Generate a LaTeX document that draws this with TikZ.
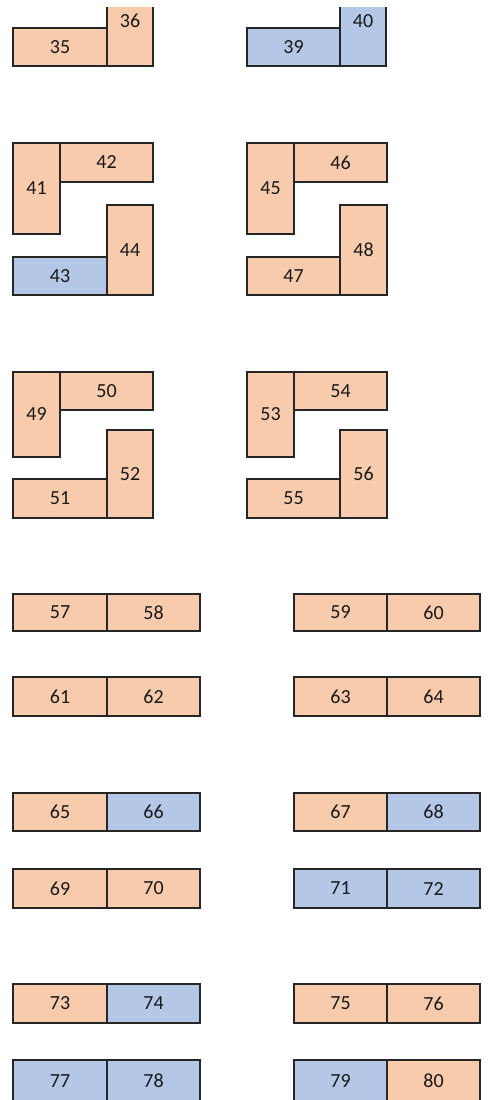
\documentclass[tikz,border=0pt]{standalone}
\usepackage{fontspec}
\setmainfont{Carlito}
\definecolor{peach}{HTML}{F8CBAD}
\definecolor{bluey}{HTML}{B4C7E7}
\tikzset{
  cellstyle/.style={draw=black!85, line width=1.3pt, inner sep=0pt, outer sep=0pt,
    font=\fontsize{20}{20}\selectfont, text=black!90}
}
\newcommand\cellbox[7]{%
  \node[cellstyle, fill=#6, minimum width={(#4-#2)*1pt}, minimum height={(#5-#3)*1pt}]
    (c#7) at ({(#2+#4)/2},{(#3+#5)/2}) {#7};}
\begin{document}
\begin{tikzpicture}[x=1pt,y=-1pt]
\useasboundingbox (0,0) rectangle (490,1100);
\begin{scope}
\clip (0,7) rectangle (490,1100);
% group 1
\cellbox{}{13}{28}{107}{66}{peach}{35}
\cellbox{}{107}{-24}{153}{66}{peach}{36}
\cellbox{}{247}{28}{340}{66}{bluey}{39}
\cellbox{}{340}{-24}{386}{66}{bluey}{40}
% group 2
\cellbox{}{13}{143}{60}{234}{peach}{41}
\cellbox{}{60}{143}{153}{182}{peach}{42}
\cellbox{}{13}{257}{107}{295}{bluey}{43}
\cellbox{}{107}{205}{153}{295}{peach}{44}
\cellbox{}{247}{143}{294}{234}{peach}{45}
\cellbox{}{294}{143}{387}{182}{peach}{46}
\cellbox{}{247}{257}{340}{295}{peach}{47}
\cellbox{}{340}{205}{387}{295}{peach}{48}
% group 3
\cellbox{}{13}{372}{60}{457}{peach}{49}
\cellbox{}{60}{372}{153}{410}{peach}{50}
\cellbox{}{13}{479}{107}{518}{peach}{51}
\cellbox{}{107}{430}{153}{518}{peach}{52}
\cellbox{}{247}{372}{294}{457}{peach}{53}
\cellbox{}{294}{372}{387}{410}{peach}{54}
\cellbox{}{247}{479}{340}{518}{peach}{55}
\cellbox{}{340}{430}{387}{518}{peach}{56}
% group 4
\cellbox{}{13}{594}{107}{631}{peach}{57}
\cellbox{}{107}{594}{200}{631}{peach}{58}
\cellbox{}{294}{594}{387}{631}{peach}{59}
\cellbox{}{387}{594}{480}{631}{peach}{60}
\cellbox{}{13}{677}{107}{716}{peach}{61}
\cellbox{}{107}{677}{200}{716}{peach}{62}
\cellbox{}{294}{677}{387}{716}{peach}{63}
\cellbox{}{387}{677}{480}{716}{peach}{64}
% group 5
\cellbox{}{13}{793}{107}{831}{peach}{65}
\cellbox{}{107}{793}{200}{831}{bluey}{66}
\cellbox{}{294}{793}{387}{831}{peach}{67}
\cellbox{}{387}{793}{480}{831}{bluey}{68}
\cellbox{}{13}{869}{107}{908}{peach}{69}
\cellbox{}{107}{869}{200}{908}{peach}{70}
\cellbox{}{294}{869}{387}{908}{bluey}{71}
\cellbox{}{387}{869}{480}{908}{bluey}{72}
% group 6
\cellbox{}{13}{984}{107}{1023}{peach}{73}
\cellbox{}{107}{984}{200}{1023}{bluey}{74}
\cellbox{}{294}{984}{387}{1023}{peach}{75}
\cellbox{}{387}{984}{480}{1023}{peach}{76}
\cellbox{}{13}{1060}{107}{1102}{bluey}{77}
\cellbox{}{107}{1060}{200}{1102}{bluey}{78}
\cellbox{}{294}{1060}{387}{1102}{bluey}{79}
\cellbox{}{387}{1060}{480}{1102}{peach}{80}
\end{scope}
\end{tikzpicture}
\end{document}
